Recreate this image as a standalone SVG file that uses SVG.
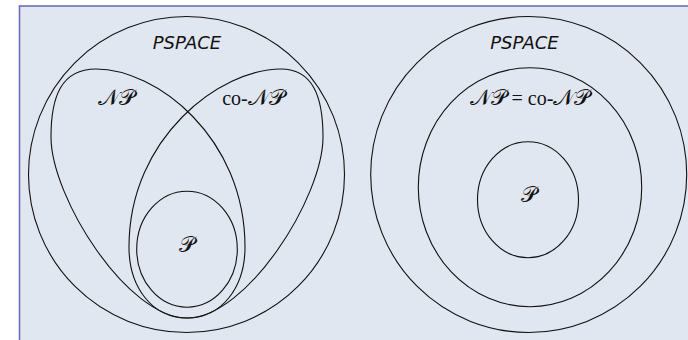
<svg xmlns="http://www.w3.org/2000/svg" width="688" height="340" viewBox="0 0 688 340">
<style>
.set{fill:none;stroke:#111;stroke-width:1.1}
.ps{font-family:"DejaVu Sans",sans-serif;font-style:italic;font-size:18px;fill:#111;text-anchor:middle}
.cal{font-family:"DejaVu Serif","DejaVu Sans","Noto Sans",serif;font-size:22px;fill:#111}
.rm{font-family:"Liberation Serif",serif;font-size:20px;fill:#111}
</style>
<rect x="0" y="0" width="688" height="340" fill="#ffffff"/>
<rect x="19.5" y="6" width="680" height="345" fill="#e1e7f1" stroke="#6c6cbf" stroke-width="1.6"/>
<g id="pspace-left">
<circle class="set" cx="186.5" cy="174.5" r="158"/>
<text class="ps" x="187" y="49">PSPACE</text>
</g>
<g id="np-left">
<path class="set" d="M96,69 C156,69 245,137 245,247 C245,287 222,318 187,318 C127,318 51,197 51,137 C51,97 61,69 96,69 Z"/>
<text class="cal" x="116.5" y="105" text-anchor="middle">𝒩𝒫</text>
</g>
<g id="conp-left">
<path class="set" d="M281,69 C221,69 129,137 129,247 C129,287 152,318 187,318 C247,318 323,197 323,137 C323,97 313,69 281,69 Z"/>
<text x="253.5" y="105" text-anchor="middle"><tspan class="rm">co-</tspan><tspan class="cal">𝒩𝒫</tspan></text>
</g>
<g id="p-left">
<ellipse class="set" cx="187" cy="249.2" rx="50.3" ry="58"/>
<text class="cal" x="187" y="252" text-anchor="middle">𝒫</text>
</g>
<g id="pspace-right">
<circle class="set" cx="528.7" cy="174.5" r="158"/>
<text class="ps" x="524.5" y="49">PSPACE</text>
</g>
<g id="np-conp-right">
<ellipse class="set" cx="530" cy="187.2" rx="111.7" ry="119.5"/>
<text x="530" y="105" text-anchor="middle"><tspan class="cal">𝒩𝒫</tspan><tspan class="rm">&#160;=&#160;co-</tspan><tspan class="cal">𝒩𝒫</tspan></text>
</g>
<g id="p-right">
<ellipse class="set" cx="528" cy="199.7" rx="50.5" ry="58"/>
<text class="cal" x="529" y="202" text-anchor="middle">𝒫</text>
</g>
<g id="connectors"/>
</svg>
